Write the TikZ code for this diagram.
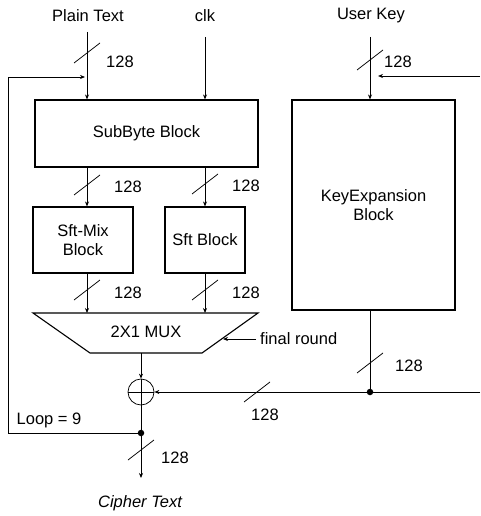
\documentclass[tikz,border=0pt]{standalone}
\usepackage{fontspec}
\setmainfont{Liberation Sans}
\usetikzlibrary{arrows.meta,calc}
\newcommand\busmark[2]{\draw[wire] ({#1-13},{#2+10}) -- ({#1+13},{#2-10});}
\begin{document}
\begin{tikzpicture}[x=1pt,y=-1pt,
  font=\fontsize{16.5}{19}\selectfont,
  box/.style={draw, line width=1.1pt, inner sep=0pt, align=center},
  wire/.style={line width=0.75pt},
  arr/.style={wire, -{Stealth[length=5pt,width=4pt]}},
  lbl/.style={inner sep=0pt},
  dotn/.style={circle, fill, inner sep=0pt, minimum size=6.5pt}]
\useasboundingbox (0,0) rectangle (480,516);
% blocks
\node[box, minimum width=223pt, minimum height=67pt] (sub) at (146.5,133.5) {SubByte Block};
\node[box, minimum width=100pt, minimum height=66pt] (sftmix) at (83,240) {Sft-Mix\\Block};
\node[box, minimum width=80pt, minimum height=66pt] (sft) at (205,240) {Sft Block};
\node[box, minimum width=163pt, minimum height=210pt] (keyexp) at (373.5,205) {KeyExpansion\\Block};
% MUX
\coordinate (muxtl) at (33,313);
\coordinate (muxtr) at (258,313);
\coordinate (muxbr) at (202,353);
\coordinate (muxbl) at (90,353);
\draw[line width=1.1pt] (muxtl) -- (muxtr) -- (muxbr) -- (muxbl) -- cycle;
\node[lbl] (mux) at (146,332) {2X1 MUX};
% XOR
\node[draw, wire, circle, minimum size=26pt, inner sep=0pt] (xor) at (141,392) {};
\draw[wire] (xor.north) -- (xor.south) (xor.west) -- (xor.east);
% dots
\node[dotn] (dotk) at (370,392) {};
\node[dotn] (dotc) at (141,433) {};
% texts
\node[lbl] (pt) at (88,16) {Plain Text};
\node[lbl] (clk) at (205,16) {clk};
\node[lbl] (uk) at (371,16) {User Key};
\node[lbl, anchor=west] (fr) at (260,339) {final round};
\node[lbl] (loop) at (49,420) {Loop = 9};
\node[lbl, font=\fontsize{16.5}{19}\selectfont\itshape] (ct) at (140,503) {Cipher Text};
% free ends
\coordinate (ptin) at (87,32);
\coordinate (clkin) at (205,37);
\coordinate (ukin) at (370,37);
\coordinate (rin) at (480,76);
\coordinate (rkey) at (480,392);
\coordinate (frin) at (256,339);
\coordinate (frtip) at (223,339);
\coordinate (lpa) at (8,433);
\coordinate (lpb) at (8,77);
\coordinate (lpc) at (85,77);
\coordinate (ctout) at (141,478);
% connectors
\draw[arr] (ptin) -- (ptin |- sub.north);
\draw[arr] (clkin) -- (clkin |- sub.north);
\draw[arr] (ukin) -- (ukin |- keyexp.north);
\draw[arr] (rin) -- (378,76);
\draw[arr] (sub.south -| sftmix.north) ++(4,0) coordinate (a1) (a1) -- (a1 |- sftmix.north);
\draw[arr] (sub.south -| sft.north) -- (sft.north);
\draw[arr] (sftmix.south) ++(4,0) coordinate (a2) (a2) -- (a2 |- muxtl);
\draw[arr] (sft.south) -- (sft.south |- muxtl);
\draw[arr] (frin) -- (frtip);
\draw[arr] (xor.north |- muxbl) -- (xor.north);
\draw[wire] (keyexp.south -| dotk) -- (dotk);
\draw[arr] (rkey) -- (dotk) -- (xor.east);
\draw[wire] (xor.south) -- (dotc);
\draw[arr] (dotc) -- (ctout);
\draw[arr] (dotc) -- (lpa) -- (lpb) -- (lpc);
% bus marks and widths
\busmark{87}{53}
\node[lbl] at (120,62) {128};
\busmark{370}{60}
\node[lbl] at (398,62) {128};
\busmark{87}{185}
\node[lbl] at (128,187) {128};
\busmark{205}{184}
\node[lbl] at (246,186) {128};
\busmark{87}{290}
\node[lbl] at (128,293) {128};
\busmark{205}{290}
\node[lbl] at (246,293) {128};
\busmark{370}{363}
\node[lbl] at (409,366) {128};
\busmark{257}{392}
\node[lbl] at (265,415) {128};
\busmark{141}{450}
\node[lbl] at (175,458) {128};
\end{tikzpicture}
\end{document}
